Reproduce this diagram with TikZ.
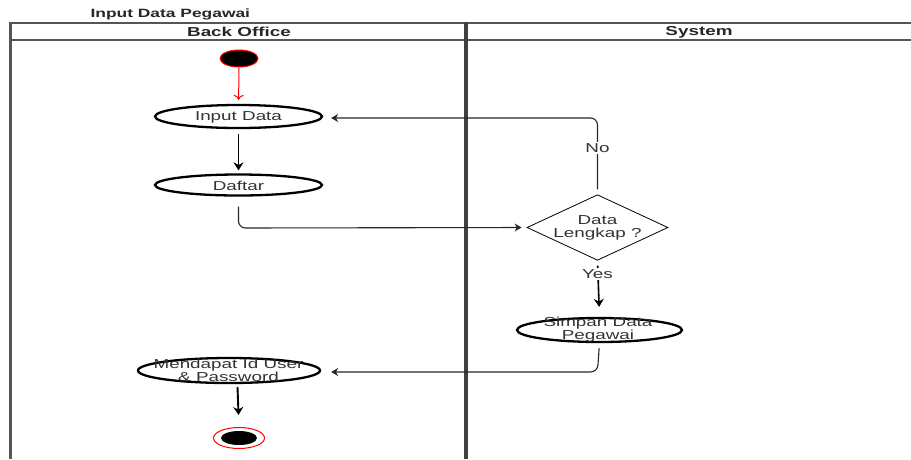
\documentclass[tikz,border=0pt]{standalone}
\usepackage{fontspec}
\setmainfont{Liberation Sans}[FakeStretch=1.45]
\usetikzlibrary{shapes.geometric,arrows.meta}
\definecolor{txt}{HTML}{333333}
\definecolor{lane}{HTML}{555555}
\tikzset{
  x=1pt, y=-1pt,
  every node/.style={text=txt, font=\fontsize{13}{12}\selectfont},
  act/.style={ellipse, draw=black, line width=2.3pt, inner sep=0pt},
  caption/.style={align=center, inner sep=0pt},
  choice/.style={diamond, draw=black, line width=0.8pt, inner sep=0pt, aspect=2.15,
    minimum width=131pt, minimum height=61pt, align=center},
  flow/.style={draw=black, line width=1.9pt, -{Stealth[length=8pt,width=10pt]}},
  link/.style={draw=black!85, line width=1.1pt, rounded corners=7pt, -{Stealth[length=7pt,width=8pt]}},
  startarrow/.style={draw=red, line width=1pt, -{To[length=5pt,width=10pt]}},
  lbl/.style={fill=white, inner sep=1pt}
}
\begin{document}
\begin{tikzpicture}
\useasboundingbox (0,0) rectangle (911,459);

% swimlane frame
\node[font=\bfseries\fontsize{12}{14}\selectfont, text=black!85, anchor=west] (title) at (87,14) {Input Data Pegawai};
\draw[lane, line width=1.1pt] (10,23) -- (911,23);
\draw[lane, line width=1.1pt] (10,40) -- (911,40);
\draw[lane, line width=3pt] (10,21.5) -- (10,459);
\draw[black!75, line width=3.2pt] (466,21.5) -- (466,459);
\node[font=\bfseries\fontsize{13}{14}\selectfont, text=black!85] (laneA) at (239,32) {Back Office};
\node[font=\bfseries\fontsize{13}{14}\selectfont, text=black!85] (laneB) at (699,32) {System};

% activity nodes
\node[ellipse, fill=black, draw=red, line width=1pt, minimum width=38pt, minimum height=17pt, inner sep=0pt] (start) at (239,58.5) {};
\node[act, minimum width=167pt, minimum height=23pt] (input) at (238.5,116.5) {};
\node[caption] (inputtext) at (238.5,117.5) {Input Data};
\node[act, minimum width=167pt, minimum height=21pt] (daftar) at (238.5,185) {};
\node[caption] (daftartext) at (238.5,186) {Daftar};
\node[choice] (cek) at (597.5,227.5) {Data\\[1pt]Lengkap ?};
\node[act, minimum width=165pt, minimum height=24pt] (simpan) at (599.5,330) {};
\node[caption] (simpantext) at (598,330) {Simpan Data\\Pegawai};
\node[act, minimum width=182pt, minimum height=25pt] (dapat) at (229,370.5) {};
\node[caption] (dapattext) at (228.5,370.5) {Mendapat Id User\\\& Password};
\node[ellipse, draw=red, line width=1pt, fill=white, minimum width=51pt, minimum height=21pt, inner sep=0pt] (stop) at (239,438) {};
\node[ellipse, fill=black, minimum width=36pt, minimum height=14pt, inner sep=0pt] (stopdot) at (stop) {};

% bend points of the connectors
\coordinate (c1) at (238.5,228);
\coordinate (c2) at (597.5,118);
\coordinate (c3) at (597.5,372);
\coordinate (d0) at (237.5,387);

% connectors
\draw[startarrow, shorten >=4pt] (start) -- (input);
\draw[flow, shorten <=5pt, shorten >=3pt] (input) -- (daftar);
\draw[link, shorten <=10pt, shorten >=5pt] (daftar.south) -- (c1) -- (cek.west);
\draw[link, shorten <=5pt, shorten >=8pt] (cek.north) -- (c2) -- (input.east |- c2);
\node[lbl] (no) at (597.5,148) {No};
\draw[flow, line width=1.6pt, shorten <=5pt, shorten >=10pt] (cek.south) -- (simpan.north);
\node[lbl] (yes) at (597.5,274) {Yes};
\draw[link, shorten <=5pt, shorten >=10pt] (simpan.south) -- (c3) -- (dapat.east |- c3);
\draw[flow, shorten >=12pt] (d0) -- (stop.north);
\end{tikzpicture}
\end{document}
